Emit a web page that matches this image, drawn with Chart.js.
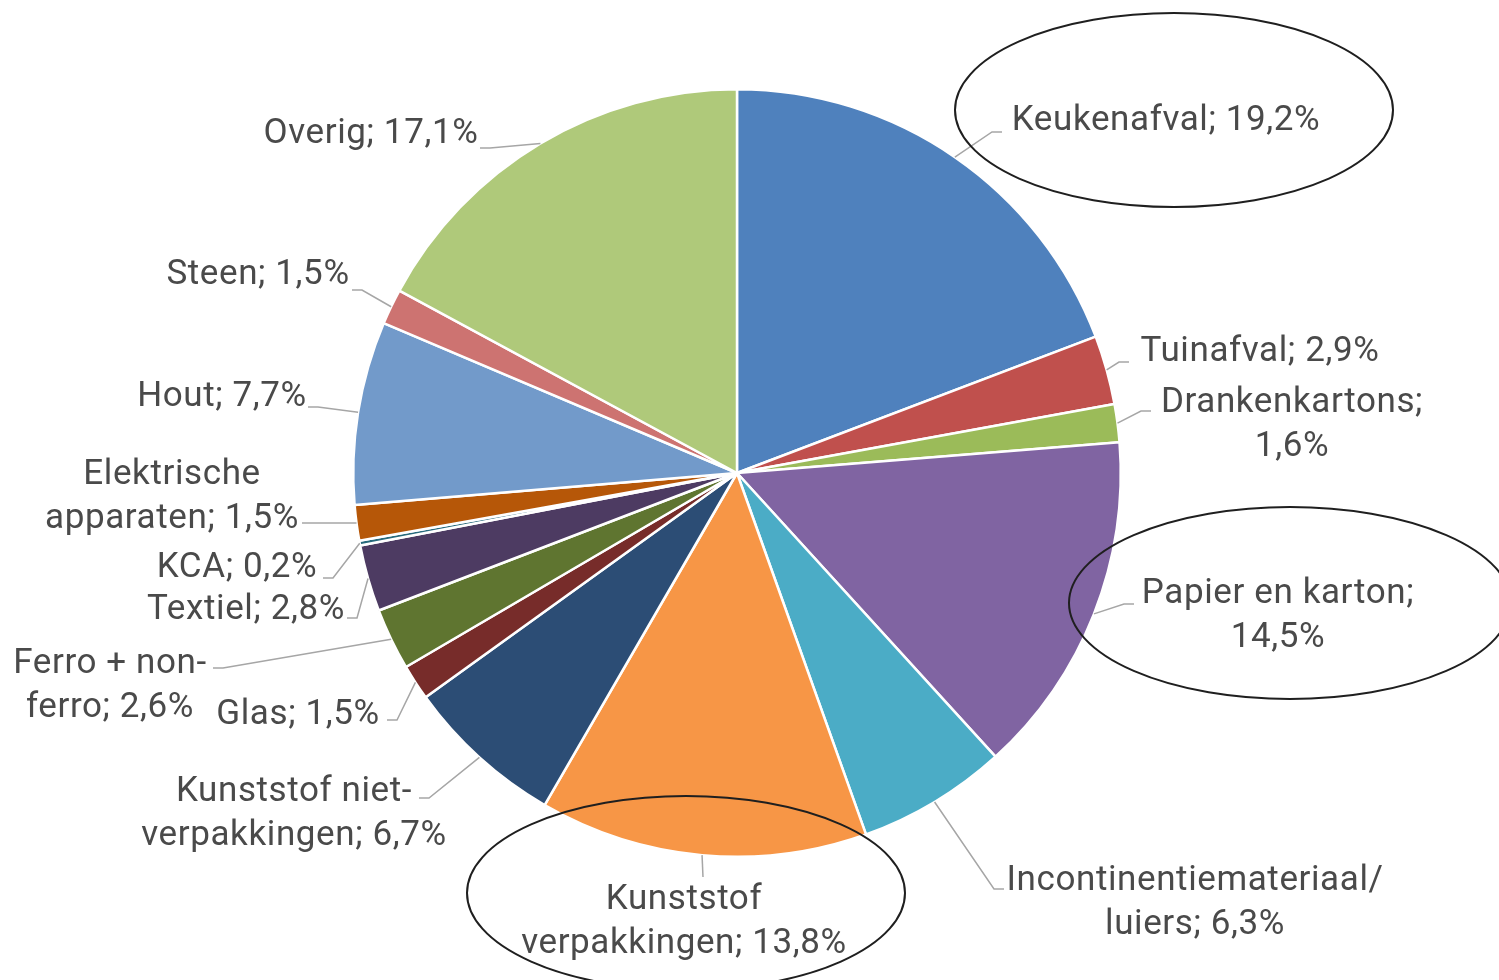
<!DOCTYPE html>
<html>
<head>
<meta charset="utf-8">
<script src="https://cdn.jsdelivr.net/npm/chart.js@4"></script>
<style>
  body { margin: 0; background: #fff; }
  #wrap { width: 1499px; height: 980px; position: relative; }
</style>
</head>
<body>
<div id="wrap"><canvas id="afvalChart"></canvas></div>
<script>
// samenstelling restafval (%)
var categories = [
  "Keukenafval", "Tuinafval", "Drankenkartons", "Papier en karton",
  "Incontinentiemateriaal/luiers", "Kunststof verpakkingen", "Kunststof niet-verpakkingen",
  "Glas", "Ferro + non-ferro", "Textiel", "KCA", "Elektrische apparaten",
  "Hout", "Steen", "Overig"
];
var shares = [19.2, 2.9, 1.6, 14.5, 6.3, 13.8, 6.7, 1.5, 2.6, 2.8, 0.2, 1.5, 7.7, 1.5, 17.1];
var colors = [
  "#4f81bd", "#c0504d", "#9bbb59", "#8064a2", "#4bacc6", "#f79646", "#2c4d75",
  "#772c2a", "#5f7530", "#4d3b62", "#276a7c", "#b65708", "#729aca", "#cd7371", "#afc97a"
];

// label placement: text centre x, first line middle y, wrap width, leader end x/y
var labelLayout = [
  { x: 1166, y: 121, w: 9999, ex: 1002, ey: 132 },
  { x: 1260, y: 352, w: 9999, ex: 1129, ey: 362 },
  { x: 1292, y: 403, w: 310, ex: 1151, ey: 411 },
  { x: 1278, y: 594, w: 320, ex: 1134, ey: 604 },
  { x: 1195, y: 881, w: 450, ex: 1004, ey: 889 },
  { x: 684, y: 900, w: 360, ex: 703, ey: 877, straight: true },
  { x: 294, y: 792, w: 380, ex: 419, ey: 798 },
  { x: 298, y: 715, w: 9999, ex: 387, ey: 720 },
  { x: 110, y: 664, w: 250, ex: 213, ey: 668 },
  { x: 246, y: 610, w: 9999, ex: 347, ey: 618 },
  { x: 237, y: 568, w: 9999, ex: 323, ey: 578 },
  { x: 172, y: 475, w: 310, ex: 302, ey: 523 },
  { x: 222, y: 397, w: 9999, ex: 308, ey: 407 },
  { x: 258, y: 275, w: 9999, ex: 352, ey: 290 },
  { x: 371, y: 134, w: 9999, ex: 480, ey: 148 }
];

// hand drawn circles round the highlighted labels
var highlights = [
  { cx: 1174, cy: 110, rx: 219, ry: 97 },
  { cx: 1290, cy: 603, rx: 221, ry: 96 },
  { cx: 686, cy: 893, rx: 219, ry: 97 }
];

var fontSpec = "400 35px Roboto";
var lineH = 44;

function fmt(v) {
  return v.toFixed(1).replace(".", ",") + "%";
}

function wrapLabel(ctx, text, maxW) {
  var parts = text.match(/[^ \/-]+[ \/-]?/g);
  var lines = [];
  var cur = "";
  parts.forEach(function (p) {
    var test = cur + p;
    if (cur && ctx.measureText(test.trim()).width > maxW) {
      lines.push(cur.trim());
      cur = p;
    } else {
      cur = test;
    }
  });
  lines.push(cur.trim());
  return lines;
}

var outsideLabels = {
  id: "outsideLabels",
  afterDraw: function (chart) {
    var ctx = chart.ctx;
    var meta = chart.getDatasetMeta(0);
    ctx.save();
    ctx.font = fontSpec;
    ctx.letterSpacing = "0.6px";
    meta.data.forEach(function (arc, i) {
      var p = arc.getProps(["x", "y", "startAngle", "endAngle", "outerRadius"], true);
      var mid = (p.startAngle + p.endAngle) / 2;
      var sx = p.x + Math.cos(mid) * p.outerRadius;
      var sy = p.y + Math.sin(mid) * p.outerRadius;
      var lay = labelLayout[i];

      ctx.strokeStyle = "#a6a6a6";
      ctx.lineWidth = 1.5;
      ctx.beginPath();
      ctx.moveTo(sx, sy);
      if (!lay.straight) {
        var side = lay.ex > sx ? -1 : 1;
        ctx.lineTo(lay.ex + side * 10, lay.ey);
      }
      ctx.lineTo(lay.ex, lay.ey);
      ctx.stroke();

      var text = categories[i] + "; " + fmt(shares[i]);
      var lines = wrapLabel(ctx, text, lay.w);
      ctx.fillStyle = "#4a4a4a";
      ctx.textAlign = "center";
      ctx.textBaseline = "middle";
      lines.forEach(function (ln, k) {
        ctx.fillText(ln, lay.x, lay.y + k * lineH);
      });
    });

    ctx.letterSpacing = "0px";
    ctx.strokeStyle = "#1f1f1f";
    ctx.lineWidth = 2;
    highlights.forEach(function (h) {
      ctx.beginPath();
      ctx.ellipse(h.cx, h.cy, h.rx, h.ry, 0, 0, Math.PI * 2);
      ctx.stroke();
    });
    ctx.restore();
  }
};

var afvalCtx = document.getElementById("afvalChart").getContext("2d");
var afvalChart = new Chart(afvalCtx, {
  type: "pie",
  data: {
    labels: categories,
    datasets: [
      {
        data: shares,
        backgroundColor: colors,
        borderColor: "#ffffff",
        borderWidth: 2.5,
      },
    ],
  },
  options: {
    responsive: true,
    maintainAspectRatio: false,
    animation: false,
    layout: { padding: { left: 352, right: 377, top: 88, bottom: 122 } },
    plugins: {
      legend: { display: false },
      tooltip: { enabled: false },
    },
  },
  plugins: [outsideLabels],
});
</script>
</body>
</html>
